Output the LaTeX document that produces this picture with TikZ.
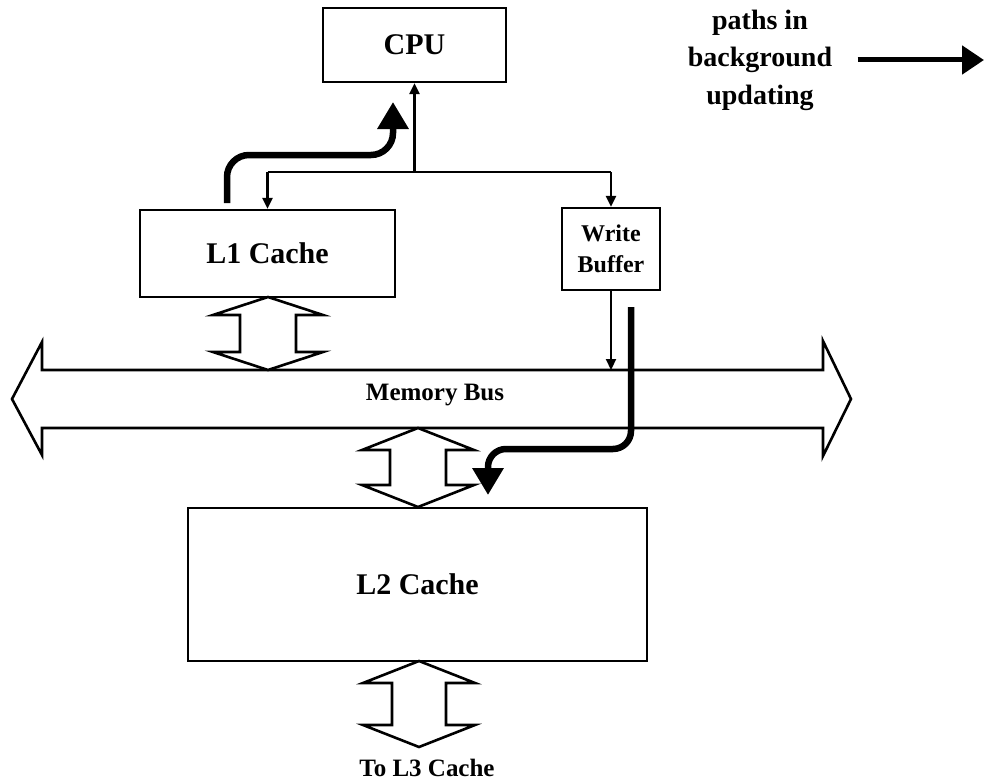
\documentclass[tikz,border=0pt]{standalone}
\usepackage{fontspec}
\setmainfont{Liberation Serif}
\usetikzlibrary{arrows.meta}
\newcommand\mydblarrow[6]{% cx, ytop, ybot, head half width, shaft half width, head length
  \draw[blockarrow] (#1,#2) -- (#1+#4,#2+#6) -- (#1+#5,#2+#6) -- (#1+#5,#3-#6) -- (#1+#4,#3-#6)
    -- (#1,#3) -- (#1-#4,#3-#6) -- (#1-#5,#3-#6) -- (#1-#5,#2+#6) -- (#1-#4,#2+#6) -- cycle;}
\begin{document}
\begin{tikzpicture}[x=1pt,y=-1pt,
  box/.style={draw, line width=2.2pt, inner sep=0pt},
  boldtxt/.style={font=\fontsize{30}{36}\selectfont\bfseries},
  smalltxt/.style={font=\fontsize{25}{30}\selectfont\bfseries},
  thinarrow/.style={line width=2.2pt, -{Triangle[width=10pt,length=11pt]}},
  thickarrow/.style={line width=6.5pt, -{Triangle[width=30pt,length=27pt]}},
  blockarrow/.style={draw, line width=2.6pt, line join=miter, fill=white},
]
\useasboundingbox (0,0) rectangle (986,784);

% boxes
\node[box, boldtxt, minimum width=183pt, minimum height=74pt] (cpu) at (414.5,45) {CPU};
\node[box, boldtxt, minimum width=255pt, minimum height=87pt] (l1) at (267.5,253.5) {L1 Cache};
\node[box, font=\fontsize{24}{31}\selectfont\bfseries, align=center,
      minimum width=98pt, minimum height=82pt] (wb) at (611,249) {Write\\Buffer};
\node[box, boldtxt, minimum width=459pt, minimum height=153pt] (l2) at (417.5,584.5) {L2 Cache};

% memory bus
\draw[blockarrow] (12,399) -- (42,342) -- (42,370) -- (823,370) -- (823,341) -- (851,399)
   -- (823,456) -- (823,428) -- (42,428) -- (42,455) -- cycle;
\node[smalltxt] (bus) at (435,395) {Memory Bus};
\coordinate (bustop) at (611,370);

% block arrows
\mydblarrow{268}{297}{370}{55}{28}{18}
\mydblarrow{418}{428}{507}{56}{28}{22}
\mydblarrow{419}{661}{747}{56}{27}{22}
\node[smalltxt] (l3) at (427,768) {To L3 Cache};

% thin connectors
\coordinate (j) at (cpu.south |- 0,172);
\draw[line width=2.2pt] (l1.north |- j) -- (wb.north |- j);
\draw[thinarrow] (j) -- (cpu.south);
\draw[thinarrow] (l1.north |- j) -- (l1.north);
\draw[thinarrow] (wb.north |- j) -- (wb.north);
\draw[thinarrow] (wb.south) -- (bustop);

% thick background-update paths
\coordinate (a1) at (227,203);
\coordinate (a2) at (227,155);
\coordinate (a3) at (393,155);
\coordinate (a4) at (393,102);
\draw[thickarrow, rounded corners=22pt] (a1) -- (a2) -- (a3) -- (a4);
\coordinate (b1) at (631,307);
\coordinate (b2) at (631,449);
\coordinate (b3) at (488,449);
\coordinate (b4) at (488,495);
\draw[thickarrow, rounded corners=18pt] (b1) -- (b2) -- (b3) -- (b4);

% legend
\node[font=\fontsize{28}{37.5}\selectfont\bfseries, align=center] (key) at (760,60) {paths in\\background\\updating};
\coordinate (keyend) at (984,60);
\draw[line width=5pt, -{Triangle[width=28pt,length=22pt]}] (key.east |- keyend) ++(22,0) -- (keyend);
\end{tikzpicture}
\end{document}
